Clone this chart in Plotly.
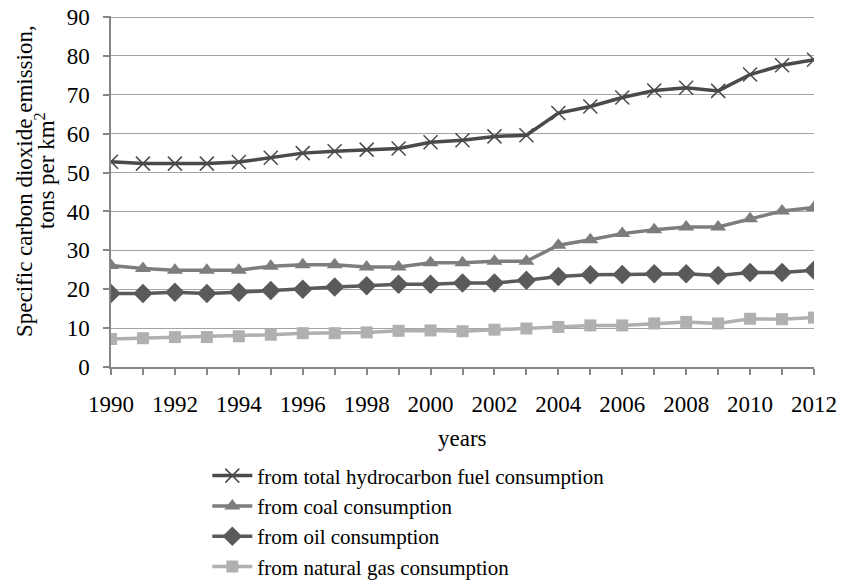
import plotly.graph_objects as go

years = list(range(1990, 2013))
total = [52.8, 52.3, 52.3, 52.3, 52.7, 53.8, 55.0, 55.5, 55.9, 56.2, 57.8, 58.3,
         59.3, 59.6, 65.3, 67.0, 69.3, 71.1, 71.8, 71.0, 75.2, 77.6, 79.0]
coal = [26.1, 25.3, 24.9, 24.9, 24.9, 25.9, 26.3, 26.3, 25.7, 25.7, 26.8, 26.8,
        27.2, 27.2, 31.3, 32.7, 34.3, 35.3, 36.0, 36.0, 38.1, 40.1, 41.0]
oil = [18.9, 18.9, 19.2, 18.9, 19.2, 19.7, 20.0, 20.6, 20.9, 21.3, 21.3, 21.6,
       21.6, 22.3, 23.3, 23.7, 23.8, 24.0, 24.0, 23.5, 24.3, 24.3, 24.9]
gas = [7.2, 7.4, 7.7, 7.7, 7.9, 8.3, 8.7, 8.7, 8.9, 9.3, 9.4, 9.2,
       9.6, 9.9, 10.3, 10.7, 10.7, 11.2, 11.6, 11.2, 12.4, 12.3, 12.7]

names = ["from total hydrocarbon fuel consumption", "from coal consumption",
         "from oil consumption", "from natural gas consumption"]
label_years = [y for y in years if y % 2 == 0]
y_ticks = list(range(0, 100, 10))
y_title_lines = ["Specific carbon dioxide emission,", "tons per km<sup>2</sup>"]
x_title = "years"

FONT = "Liberation Serif"
FS = 23

fig = go.Figure()
series = [
    (total, names[0], "#4a4a4a", dict(symbol="x-thin", size=14, line=dict(width=1.5, color="#4a4a4a"))),
    (coal, names[1], "#7d7d7d", dict(symbol="triangle-up", size=14, color="#7d7d7d")),
    (oil, names[2], "#5a5a5a", dict(symbol="diamond", size=15, color="#5a5a5a")),
    (gas, names[3], "#b0b0b0", dict(symbol="square", size=12, color="#b0b0b0")),
]
for vals, name, col, mk in series:
    fig.add_trace(go.Scatter(x=years, y=vals, name=name, mode="lines+markers",
                             line=dict(color=col, width=3.5), marker=mk))

fig.update_layout(
    width=843, height=580,
    margin=dict(l=111, r=29, t=16, b=213, autoexpand=False),
    paper_bgcolor="white", plot_bgcolor="white",
    font=dict(family=FONT, size=FS, color="black"),
    showlegend=True,
    legend=dict(x=0.137, y=-0.252, xanchor="left", yanchor="top",
                font=dict(family=FONT, size=21, color="black"),
                tracegroupgap=0, itemwidth=40, bgcolor="rgba(0,0,0,0)"),
    xaxis=dict(range=[1990, 2012], tickmode="array", tickvals=label_years,
               ticktext=[str(y) for y in label_years],
               ticks="outside", ticklen=6, tickcolor="#868686", tickwidth=1.5,
               ticklabelstandoff=10, ticklabeloverflow="allow",
               minor=dict(ticks="outside", dtick=1, tick0=1990, ticklen=6,
                          tickcolor="#868686", tickwidth=1.5, showgrid=False),
               showline=True, linecolor="#868686", linewidth=1.5,
               showgrid=False, zeroline=False),
    yaxis=dict(range=[0, 90.26], tickmode="array", tickvals=y_ticks,
               ticktext=[str(v) for v in y_ticks],
               ticks="outside", ticklen=6, tickcolor="#868686",
               tickwidth=1.5, ticklabelstandoff=9, ticklabeloverflow="allow",
               showline=True, linecolor="#868686", linewidth=1.5,
               showgrid=True, gridcolor="#a3a3a3", gridwidth=1.3, zeroline=False),
    annotations=[
        dict(text=y_title_lines[0], xref="paper", yref="paper", x=-0.1223, y=0.530,
             xanchor="center", yanchor="middle", textangle=-90, showarrow=False,
             font=dict(family=FONT, size=FS)),
        dict(text=y_title_lines[1], xref="paper", yref="paper", x=-0.094, y=0.561,
             xanchor="center", yanchor="middle", textangle=-90, showarrow=False,
             font=dict(family=FONT, size=FS)),
        dict(text=x_title, xref="paper", yref="paper", x=0.5, y=-0.203,
             xanchor="center", yanchor="middle", showarrow=False,
             font=dict(family=FONT, size=FS)),
    ],
)

fig.write_html("out.html", config={"displayModeBar": False},
               post_script="document.body.style.margin='0';")
